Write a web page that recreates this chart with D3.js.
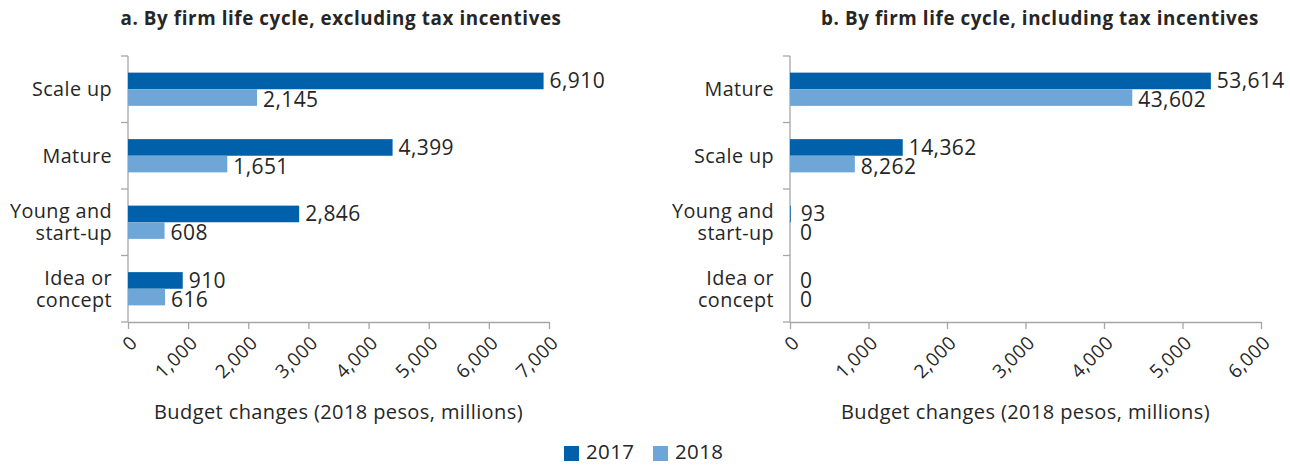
<!DOCTYPE html>
<html>
<head>
<meta charset="utf-8">
<script src="https://cdn.jsdelivr.net/npm/d3@7"></script>
<style>
  html, body { margin: 0; padding: 0; background: #fff; }
  svg { display: block; font-family: "Open Sans", "Noto Sans", sans-serif; }
</style>
</head>
<body>
<svg id="chart" width="1290" height="466"></svg>
<script>
// ---- data ----
const seriesNames = ["2017", "2018"];
const seriesColors = ["#0061AA", "#6FA6D8"];

const catsA = [["Scale up"], ["Mature"], ["Young and", "start-up"], ["Idea or", "concept"]];
const values2017A = [6910, 4399, 2846, 910];
const values2018A = [2145, 1651, 608, 616];
const tickValuesA = [0, 1000, 2000, 3000, 4000, 5000, 6000, 7000];
const tickLabelsA = ["0", "1,000", "2,000", "3,000", "4,000", "5,000", "6,000", "7,000"];

const catsB = [["Mature"], ["Scale up"], ["Young and", "start-up"], ["Idea or", "concept"]];
const values2017B = [53614, 14362, 93, 0];
const values2018B = [43602, 8262, 0, 0];
// as printed in the source, the axis labels of panel b read one tenth of the bar values
const tickValuesB = [0, 10000, 20000, 30000, 40000, 50000, 60000];
const tickLabelsB = ["0", "1,000", "2,000", "3,000", "4,000", "5,000", "6,000"];

const titleA = "a. By firm life cycle, excluding tax incentives";
const titleB = "b. By firm life cycle, including tax incentives";
const axisTitle = "Budget changes (2018 pesos, millions)";

// ---- drawing ----
const svg = d3.select("#chart");
const fmt = d3.format(",");
const textColor = "#262626";
const axisColor = "#a6a6a6";
const ls = "0.4px";

function panel(cfg) {
  const g = svg.append("g");
  const cats = cfg.cats.map(c => c.join(" "));
  const x = d3.scaleLinear().domain([0, cfg.max]).range([cfg.x0, cfg.x1]);
  const y = d3.scaleBand().domain(cats).range([cfg.yTop, cfg.yBot]).paddingInner(0).paddingOuter(0);
  const ys = d3.scaleBand().domain(seriesNames).range([0, y.bandwidth()]).paddingInner(0).paddingOuter(1);

  // title
  g.append("text").attr("x", cfg.titleX).attr("y", 25)
    .attr("text-anchor", "middle").attr("font-size", 18.8).attr("font-weight", "bold")
    .attr("letter-spacing", "0.6px")
    .attr("fill", textColor).text(cfg.title);

  // x axis
  const xAxis = d3.axisBottom(x).tickValues(cfg.tickValues)
    .tickFormat((d, i) => cfg.tickLabels[i]).tickSize(7).tickSizeOuter(0);
  const ax = g.append("g").attr("transform", `translate(0,${cfg.yBot})`).call(xAxis);
  ax.select(".domain").attr("stroke", axisColor).attr("stroke-width", 1.3);
  ax.selectAll(".tick line").attr("stroke", axisColor).attr("stroke-width", 1.3);
  ax.selectAll(".tick text")
    .attr("fill", textColor).attr("font-size", 19).attr("font-family", "Open Sans")
    .attr("letter-spacing", ls)
    .attr("text-anchor", "end")
    .attr("y", 0).attr("dy", 0)
    .attr("transform", "translate(10,22) rotate(-45)");

  // y axis line & category boundary ticks
  g.append("line").attr("x1", cfg.x0).attr("x2", cfg.x0)
    .attr("y1", cfg.yTop).attr("y2", cfg.yBot)
    .attr("stroke", axisColor).attr("stroke-width", 1.3);
  const bounds = cats.map(c => y(c)).concat([cfg.yBot]);
  g.selectAll(".ytick").data(bounds).join("line")
    .attr("x1", cfg.x0 - 7).attr("x2", cfg.x0)
    .attr("y1", d => d).attr("y2", d => d)
    .attr("stroke", axisColor).attr("stroke-width", 1.3);

  // category labels
  cfg.cats.forEach((lines, i) => {
    const cy = y(cats[i]) + y.bandwidth() / 2;
    const lh = 22;
    const t = g.append("text").attr("text-anchor", "end").attr("font-size", 19.8)
      .attr("letter-spacing", ls).attr("fill", textColor);
    lines.forEach((ln, j) => {
      t.append("tspan").attr("x", cfg.x0 - 16)
        .attr("y", cy + (j - (lines.length - 1) / 2) * lh)
        .attr("dy", "0.35em").text(ln);
    });
  });

  // bars & labels
  const series = [cfg.v2017, cfg.v2018];
  series.forEach((vals, si) => {
    const data = vals.map((v, i) => ({ v, c: cats[i] }));
    g.selectAll(".bar" + si).data(data).join("rect")
      .attr("x", x(0))
      .attr("y", d => y(d.c) + ys(seriesNames[si]))
      .attr("width", d => x(d.v) - x(0))
      .attr("height", ys.bandwidth())
      .attr("fill", seriesColors[si]);
    g.selectAll(".lab" + si).data(data).join("text")
      .attr("x", d => x(d.v) + (d.v < cfg.max / 100 ? 10 : 6))
      .attr("y", d => y(d.c) + ys(seriesNames[si]) + ys.bandwidth() / 2 + (si === 1 ? 2 : 0))
      .attr("dy", "0.36em")
      .attr("font-size", 21).attr("letter-spacing", ls).attr("fill", textColor)
      .text(d => fmt(d.v));
  });

  // axis title
  g.append("text").attr("x", (cfg.x0 + cfg.x1) / 2).attr("y", 419)
    .attr("text-anchor", "middle").attr("font-size", 20).attr("letter-spacing", ls)
    .attr("fill", textColor)
    .text(axisTitle);
}

panel({ cats: catsA, v2017: values2017A, v2018: values2018A, max: 7000,
  tickValues: tickValuesA, tickLabels: tickLabelsA,
  x0: 128, x1: 549, yTop: 56, yBot: 322, title: titleA, titleX: 341 });
panel({ cats: catsB, v2017: values2017B, v2018: values2018B, max: 60000,
  tickValues: tickValuesB, tickLabels: tickLabelsB,
  x0: 790, x1: 1261, yTop: 56, yBot: 322, title: titleB, titleX: 1040 });

// legend
const legend = svg.append("g");
const legX = [564, 653];
seriesNames.forEach((s, i) => {
  legend.append("rect").attr("x", legX[i]).attr("y", 446).attr("width", 15).attr("height", 15)
    .attr("fill", seriesColors[i]);
  legend.append("text").attr("x", legX[i] + 22).attr("y", 452).attr("dy", "0.36em")
    .attr("font-size", 20.5).attr("letter-spacing", ls).attr("fill", textColor).text(s);
});
</script>
</body>
</html>
